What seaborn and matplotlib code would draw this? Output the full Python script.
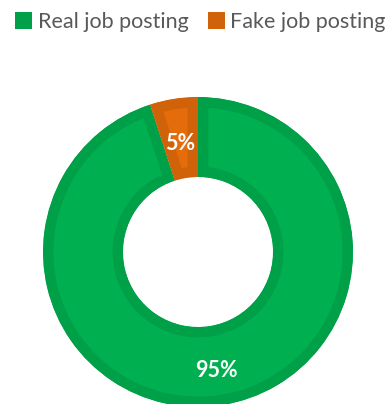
import matplotlib
matplotlib.use("Agg")
import matplotlib.pyplot as plt
from matplotlib.patches import Rectangle, Wedge
from matplotlib.transforms import ScaledTranslation
import numpy as np
import seaborn as sns

# Share of job postings
categories = ["Real job posting", "Fake job posting"]
shares = [95, 5]
labels = ["95%", "5%"]

face_colors = ["#00B050", "#E46C0A"]
edge_colors = ["#00A048", "#D0620A"]

sns.set_theme(style="white")
plt.rcParams["font.family"] = ["Lato", "DejaVu Sans"]

W, H = 391, 404
fig = plt.figure(figsize=(W / 100, H / 100), dpi=100)
fig.patch.set_facecolor("white")

# donut centre (198, 252) px, outer radius 155 px
cx, cy, R = 198, 252, 155
ax = fig.add_axes([(cx - R) / W, (H - cy - R) / H, 2 * R / W, 2 * R / H])

ring = 80 / 155
wedges, _ = ax.pie(
    shares,
    colors=face_colors,
    startangle=90,
    counterclock=False,
    radius=1,
    wedgeprops=dict(width=ring),
)
ax.set_xlim(-1, 1)
ax.set_ylim(-1, 1)
ax.set_aspect("equal")
ax.axis("off")

# darker inner border on each slice (stroke clipped to the slice itself)
for w, ec in zip(wedges, edge_colors):
    w.set_edgecolor(ec)
    w.set_linewidth(15)
    clip = Wedge(w.center, w.r, w.theta1, w.theta2, width=w.width,
                 transform=ax.transData)
    w.set_clip_on(True)
    w.set_clip_path(clip)

# value labels at mid-ring
mid_r = 1 - ring / 2
label_tf = ax.transData + ScaledTranslation(0, -0.05, fig.dpi_scale_trans)
for w, lab in zip(wedges, labels):
    ang = np.deg2rad((w.theta1 + w.theta2) / 2)
    ax.text(mid_r * np.cos(ang), mid_r * np.sin(ang), lab,
            ha="center", va="center", color="white", transform=label_tf,
            fontsize=15.5, fontweight="bold")

handles = [Rectangle((0, 0), 1, 1, facecolor=c, edgecolor="none") for c in edge_colors]
fig.legend(handles, categories, loc="center",
           bbox_to_anchor=(0.5 + 5 / W, 1 - 22 / H),
           ncol=2, frameon=False, fontsize=15.5, labelcolor="#595959",
           handlelength=0.8, handleheight=0.8, handletextpad=0.25,
           columnspacing=0.9, borderpad=0, borderaxespad=0)

fig.savefig("out.png", dpi=100, facecolor="white")
